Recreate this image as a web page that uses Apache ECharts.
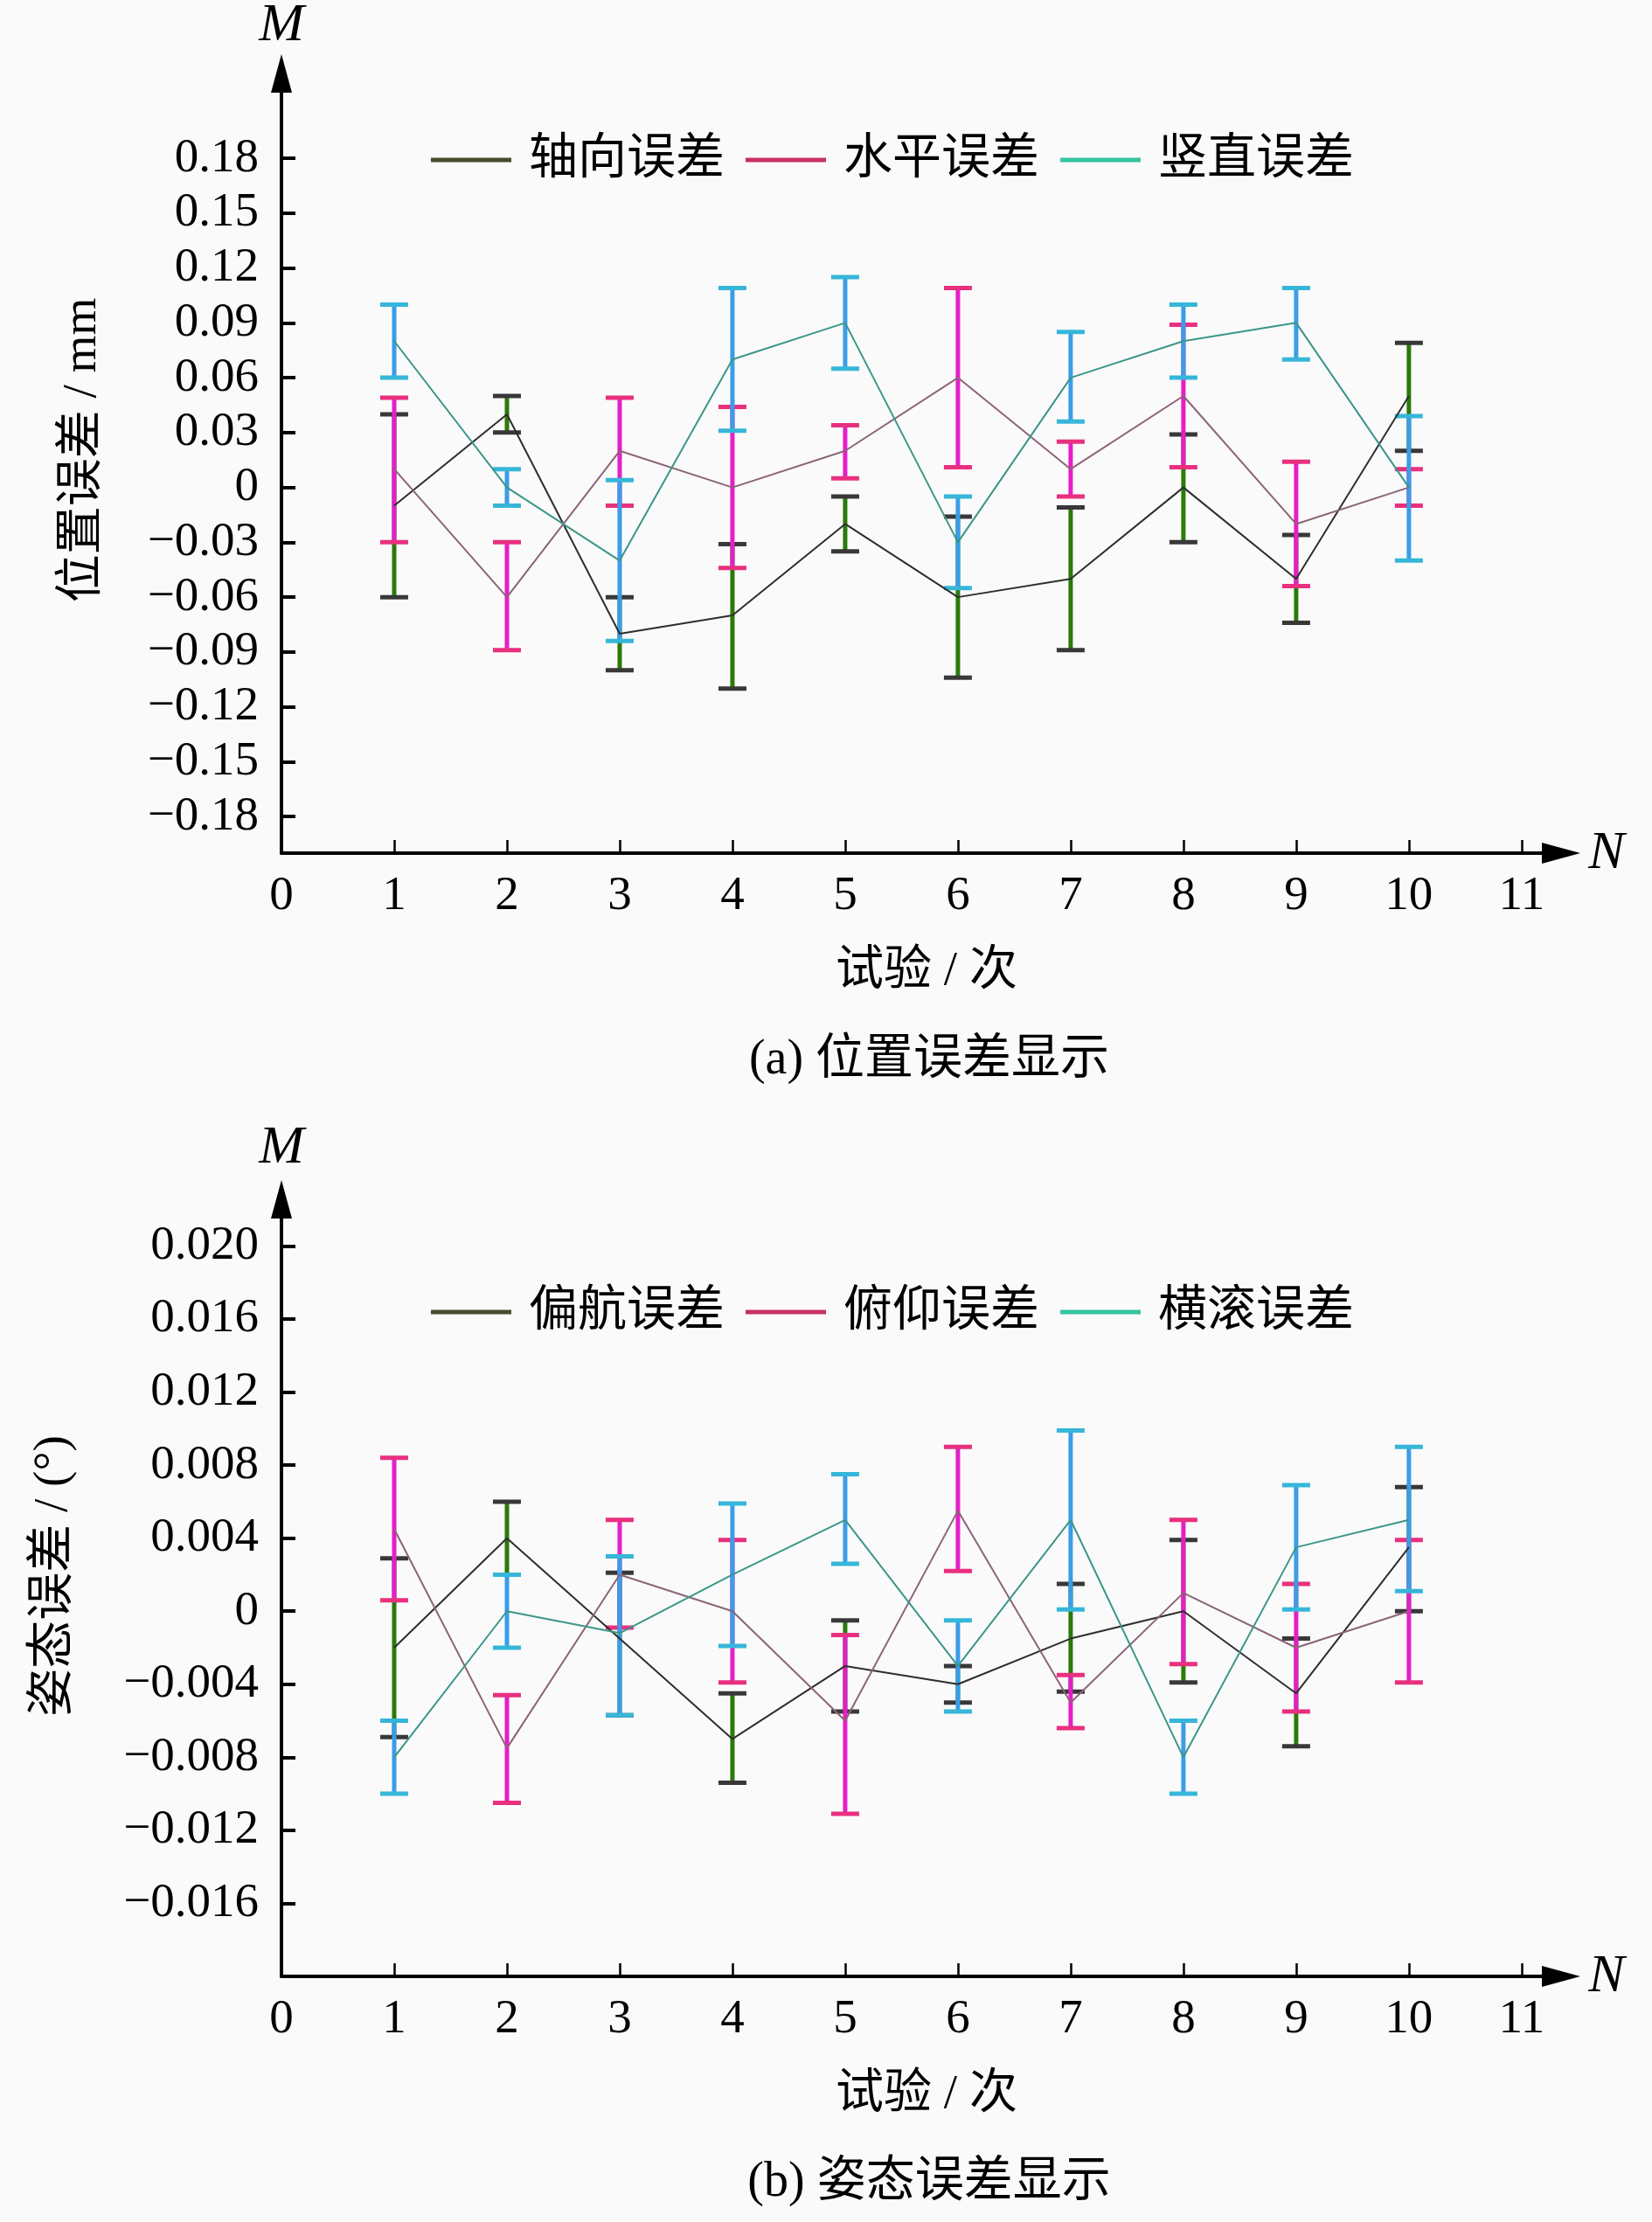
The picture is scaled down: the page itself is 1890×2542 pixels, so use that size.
<!DOCTYPE html>
<html lang="zh">
<head>
    <meta charset="UTF-8" />
    <title>误差显示</title>
    <script src="https://cdn.jsdelivr.net/npm/echarts@6/dist/echarts.min.js"></script>
    <style>
        html, body { margin: 0; padding: 0; background: #fafafa; }
    </style>
</head>
<body>
    <div id="chart" style="width: 1890px; height: 2542px"></div>
    <script>
        // 试验次数
        var trials = [1, 2, 3, 4, 5, 6, 7, 8, 9, 10]
        var xLabels = [0, 1, 2, 3, 4, 5, 6, 7, 8, 9, 10, 11]
        var xTicks = [1, 2, 3, 4, 5, 6, 7, 8, 9, 10, 11]

        // (a) 位置误差 / mm
        var posTicks = [-0.18, -0.15, -0.12, -0.09, -0.06, -0.03, 0, 0.03, 0.06, 0.09, 0.12, 0.15, 0.18]
        var axialVal  = [-0.01, 0.04, -0.08, -0.07, -0.02, -0.06, -0.05, 0, -0.05, 0.05]
        var axialLow  = [-0.06, 0.03, -0.10, -0.11, -0.035, -0.104, -0.089, -0.03, -0.074, 0.02]
        var axialHigh = [0.04, 0.05, -0.06, -0.031, -0.005, -0.016, -0.011, 0.029, -0.026, 0.079]
        var horizVal  = [0.01, -0.06, 0.02, 0, 0.02, 0.06, 0.01, 0.05, -0.02, 0]
        var horizLow  = [-0.03, -0.089, -0.01, -0.044, 0.005, 0.011, -0.005, 0.011, -0.054, -0.01]
        var horizHigh = [0.049, -0.03, 0.049, 0.044, 0.034, 0.109, 0.025, 0.089, 0.014, 0.01]
        var vertVal   = [0.08, 0, -0.04, 0.07, 0.09, -0.03, 0.06, 0.08, 0.09, 0]
        var vertLow   = [0.06, -0.01, -0.084, 0.031, 0.065, -0.055, 0.036, 0.06, 0.07, -0.04]
        var vertHigh  = [0.10, 0.01, 0.004, 0.109, 0.115, -0.005, 0.085, 0.10, 0.109, 0.039]

        // (b) 姿态误差 / (°)
        var attTicks = [-0.016, -0.012, -0.008, -0.004, 0, 0.004, 0.008, 0.012, 0.016, 0.020]
        var yawVal    = [-0.002, 0.004, -0.0015, -0.007, -0.003, -0.004, -0.0015, 0, -0.0045, 0.0035]
        var yawLow    = [-0.0069, 0.002, -0.0057, -0.0094, -0.0055, -0.005, -0.0044, -0.0039, -0.0074, 0]
        var yawHigh   = [0.0029, 0.006, 0.0021, -0.0045, -0.0005, -0.003, 0.0015, 0.0039, -0.0015, 0.0068]
        var pitchVal  = [0.0045, -0.0075, 0.002, 0, -0.006, 0.0055, -0.005, 0.001, -0.002, 0]
        var pitchLow  = [0.0006, -0.0105, -0.0009, -0.0039, -0.0111, 0.0022, -0.0064, -0.0029, -0.0055, -0.0039]
        var pitchHigh = [0.0084, -0.0046, 0.005, 0.0039, -0.0013, 0.009, -0.0035, 0.005, 0.0015, 0.0039]
        var rollVal   = [-0.008, 0, -0.0012, 0.002, 0.005, -0.003, 0.005, -0.008, 0.0035, 0.005]
        var rollLow   = [-0.01, -0.002, -0.0057, -0.0019, 0.0026, -0.0055, 0.0001, -0.01, 0.0001, 0.0011]
        var rollHigh  = [-0.006, 0.002, 0.003, 0.0059, 0.0075, -0.0005, 0.0099, -0.006, 0.0069, 0.009]

        var serif = '"Liberation Serif", "Noto Sans CJK SC", serif'

        // 颜色: [折线, 误差棒, 端帽, 图例]
        var cGreen = ['#2e2e2e', '#2a7a0a', '#383838', '#4b4b2d']
        var cPink  = ['#8c6478', '#e61ec8', '#e8307f', '#c8325f']
        var cCyan  = ['#3c9688', '#3a9de8', '#36b6d8', '#33c4a0']

        function fmt(dec) {
            return function (v) {
                if (Math.abs(v) < 1e-9) return '0'
                return (v < 0 ? '\u2212' : '') + Math.abs(v).toFixed(dec)
            }
        }

        function errRender(barColor, capColor) {
            return function (params, api) {
                var x = api.value(0)
                var lo = api.coord([x, api.value(1)])
                var hi = api.coord([x, api.value(2)])
                var half = 16
                return {
                    type: 'group',
                    children: [
                        { type: 'line', shape: { x1: lo[0], y1: lo[1], x2: hi[0], y2: hi[1] }, style: { stroke: barColor, lineWidth: 5 } },
                        { type: 'line', shape: { x1: hi[0] - half, y1: hi[1], x2: hi[0] + half, y2: hi[1] }, style: { stroke: capColor, lineWidth: 5 } },
                        { type: 'line', shape: { x1: lo[0] - half, y1: lo[1], x2: lo[0] + half, y2: lo[1] }, style: { stroke: capColor, lineWidth: 5 } }
                    ]
                }
            }
        }

        function errSeries(name, idx, low, high, c) {
            return {
                name: name, type: 'custom', xAxisIndex: idx, yAxisIndex: idx, z: 2,
                renderItem: errRender(c[1], c[2]),
                encode: { x: 0, y: [1, 2] },
                data: trials.map(function (t, i) { return [t, low[i], high[i]] })
            }
        }

        function lineSeries(name, idx, vals, c) {
            return {
                name: name, type: 'line', xAxisIndex: idx, yAxisIndex: idx, z: 3,
                showSymbol: false, symbol: 'none',
                itemStyle: { color: c[3] },
                lineStyle: { color: c[0], width: 2 },
                data: trials.map(function (t, i) { return [t, vals[i]] })
            }
        }

        function xAxisOf(idx) {
            return {
                gridIndex: idx, type: 'value', min: 0, max: 11.35,
                axisLine: { show: true, onZero: false, symbol: ['none', 'triangle'], symbolSize: [24, 44], lineStyle: { color: '#000', width: 4 } },
                axisTick: { show: true, inside: true, length: 15, customValues: xTicks, lineStyle: { color: '#000', width: 2.5 } },
                axisLabel: { customValues: xLabels, margin: 22, fontSize: 55, fontFamily: serif, color: '#000' },
                splitLine: { show: false }
            }
        }

        function yAxisOf(idx, min, max, ticks, dec) {
            return {
                gridIndex: idx, type: 'value', min: min, max: max,
                axisLine: { show: true, onZero: false, symbol: ['none', 'triangle'], symbolSize: [24, 44], lineStyle: { color: '#000', width: 4 } },
                axisTick: { show: true, inside: true, length: 16, customValues: ticks, lineStyle: { color: '#000', width: 4 } },
                axisLabel: { customValues: ticks, margin: 26, fontSize: 55, fontFamily: serif, color: '#000', formatter: fmt(dec) },
                splitLine: { show: false }
            }
        }

        function legendOf(top, names) {
            var cols = [cGreen, cPink, cCyan]
            return {
                left: 488, top: top, icon: 'rect', itemWidth: 92, itemHeight: 5, itemGap: 24,
                textStyle: { fontSize: 56, fontFamily: serif, color: '#000', padding: [0, 0, 0, 15] },
                data: names.map(function (n, i) { return { name: n, itemStyle: { color: cols[i][3] } } })
            }
        }

        function txt(text, x, y, opt) {
            opt = opt || {}
            return {
                type: 'text', x: x, y: y, rotation: opt.rot || 0, z: 10,
                style: {
                    text: text, fill: '#000', align: 'center', verticalAlign: 'middle',
                    font: (opt.italic ? 'italic ' : '') + (opt.size || 55) + 'px ' + serif
                }
            }
        }

        var mCharts = echarts.init(document.getElementById('chart'))

        var option = {
            backgroundColor: '#fafafa',
            animation: false,
            grid: [
                { left: 322, right: 104, top: 84, height: 892 },
                { left: 322, right: 104, top: 1372, height: 889 }
            ],
            xAxis: [xAxisOf(0), xAxisOf(1)],
            yAxis: [
                yAxisOf(0, -0.2, 0.2264, posTicks, 2),
                yAxisOf(1, -0.02, 0.02256, attTicks, 3)
            ],
            legend: [
                legendOf(150, ['轴向误差', '水平误差', '竖直误差']),
                legendOf(1468, ['偏航误差', '俯仰误差', '横滚误差'])
            ],
            graphic: [
                txt('M', 322, 30, { italic: true, size: 62 }),
                txt('N', 1838, 977, { italic: true, size: 62 }),
                txt('位置误差 / mm', 95, 515, { rot: Math.PI / 2 }),
                txt('试验 / 次', 1060, 1112),
                txt('(a) 位置误差显示', 1063, 1213, { size: 56 }),
                txt('M', 322, 1314, { italic: true, size: 62 }),
                txt('N', 1838, 2262, { italic: true, size: 62 }),
                txt('姿态误差 / (°)', 62, 1803, { rot: Math.PI / 2 }),
                txt('试验 / 次', 1060, 2397),
                txt('(b) 姿态误差显示', 1063, 2497, { size: 56 })
            ],
            series: [
                errSeries('轴向误差', 0, axialLow, axialHigh, cGreen),
                errSeries('水平误差', 0, horizLow, horizHigh, cPink),
                errSeries('竖直误差', 0, vertLow, vertHigh, cCyan),
                lineSeries('轴向误差', 0, axialVal, cGreen),
                lineSeries('水平误差', 0, horizVal, cPink),
                lineSeries('竖直误差', 0, vertVal, cCyan),
                errSeries('偏航误差', 1, yawLow, yawHigh, cGreen),
                errSeries('俯仰误差', 1, pitchLow, pitchHigh, cPink),
                errSeries('横滚误差', 1, rollLow, rollHigh, cCyan),
                lineSeries('偏航误差', 1, yawVal, cGreen),
                lineSeries('俯仰误差', 1, pitchVal, cPink),
                lineSeries('横滚误差', 1, rollVal, cCyan)
            ]
        }
        mCharts.setOption(option)
    </script>
</body>
</html>
